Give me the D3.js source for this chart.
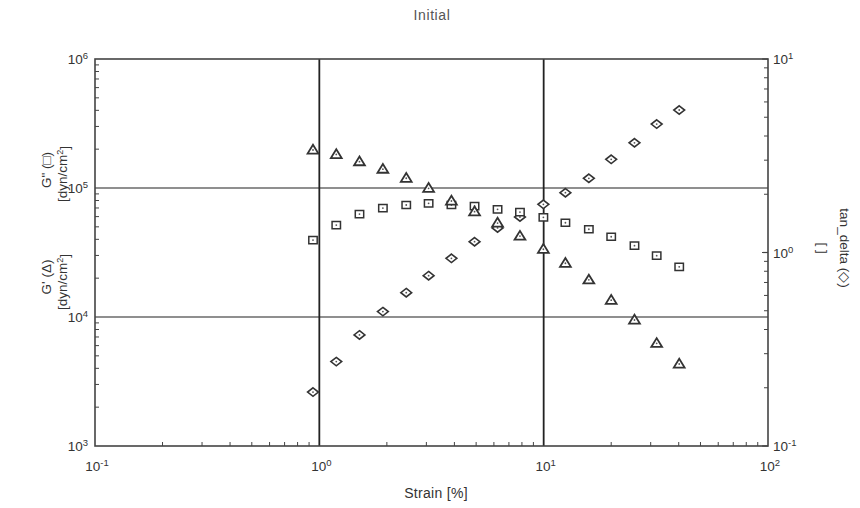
<!DOCTYPE html>
<html>
<head>
<meta charset="utf-8">
<script src="https://cdn.jsdelivr.net/npm/d3@7"></script>
<style>
  body { margin: 0; background: #fff; }
  svg { display: block; }
  text { font-family: "Liberation Sans", Arial, Helvetica, sans-serif; fill: #333; }
</style>
</head>
<body>
<svg id="chart" width="860" height="508"></svg>
<script>
// Strain sweep data (strain in %, moduli in dyn/cm², tan delta dimensionless)
const strain = [0.937, 1.19, 1.51, 1.92, 2.44, 3.07, 3.88, 4.92, 6.23, 7.84, 9.97, 12.5, 15.9, 20.0, 25.4, 31.9, 40.2];
const gPrime = [197000, 182000, 160000, 140000, 119000, 99500, 79300, 65500, 53500, 42400, 33500, 26100, 19400, 13500, 9480, 6250, 4320];
const gDoublePrime = [39500, 51600, 62800, 69900, 73800, 76100, 73800, 72400, 68300, 65100, 59300, 53800, 47900, 41900, 35700, 29900, 24500];
const tanDelta = [0.190, 0.273, 0.375, 0.495, 0.620, 0.759, 0.933, 1.137, 1.339, 1.526, 1.774, 2.037, 2.418, 3.031, 3.69, 4.61, 5.45];

// Decade exponents used for tick labels
const xTickExps = [-1, 0, 1, 2];
const leftTickExps = [3, 4, 5, 6];
const rightTickExps = [-1, 0, 1];
const xGrid = [1, 10];
const yGrid = [1e4, 1e5];

const svg = d3.select("#chart");
const m = { left: 95, right: 768, top: 59, bottom: 446 };

const x = d3.scaleLog().domain([0.1, 100]).range([m.left, m.right]);
const yL = d3.scaleLog().domain([1e3, 1e6]).range([m.bottom, m.top]);
const yR = d3.scaleLog().domain([0.1, 10]).range([m.bottom, m.top]);

// minor tick positions (2..9 of every decade) for a log domain
function logTicks(lo, hi) {
  const out = [];
  for (let e = Math.round(Math.log10(lo)); e < Math.round(Math.log10(hi)); e++) {
    for (let k = 2; k <= 9; k++) out.push(k * Math.pow(10, e));
  }
  return out;
}

// title
svg.append("text").attr("x", 432).attr("y", 20).attr("text-anchor", "middle")
  .style("font-size", "14px").style("letter-spacing", "0.6px").style("fill", "#555").text("Initial");

// grid lines
svg.selectAll(".hgrid").data(yGrid).join("line")
  .attr("x1", m.left).attr("x2", m.right)
  .attr("y1", d => yL(d)).attr("y2", d => yL(d))
  .attr("stroke", "#6a6a6a").attr("stroke-width", 1.6);
svg.selectAll(".vgrid").data(xGrid).join("line")
  .attr("y1", m.top).attr("y2", m.bottom)
  .attr("x1", d => x(d)).attr("x2", d => x(d))
  .attr("stroke", "#222").attr("stroke-width", 1.8);

// frame
svg.append("rect").attr("x", m.left).attr("y", m.top)
  .attr("width", m.right - m.left).attr("height", m.bottom - m.top)
  .attr("fill", "none").attr("stroke", "#444").attr("stroke-width", 1.6);

// inward minor ticks
const tk = 4;
svg.selectAll(".xt").data(logTicks(0.1, 100)).join("line")
  .attr("x1", d => x(d)).attr("x2", d => x(d))
  .attr("y1", m.bottom).attr("y2", m.bottom - tk)
  .attr("stroke", "#444").attr("stroke-width", 1);
svg.selectAll(".ylt").data(logTicks(1e3, 1e6)).join("line")
  .attr("x1", m.left).attr("x2", m.left + tk)
  .attr("y1", d => yL(d)).attr("y2", d => yL(d))
  .attr("stroke", "#444").attr("stroke-width", 1);
svg.selectAll(".yrt").data(logTicks(0.1, 10)).join("line")
  .attr("x1", m.right).attr("x2", m.right - tk)
  .attr("y1", d => yR(d)).attr("y2", d => yR(d))
  .attr("stroke", "#444").attr("stroke-width", 1);
svg.selectAll(".yrM").data(rightTickExps).join("line")
  .attr("x1", m.right).attr("x2", m.right - 6)
  .attr("y1", d => yR(Math.pow(10, d))).attr("y2", d => yR(Math.pow(10, d)))
  .attr("stroke", "#444").attr("stroke-width", 1.2);

// power-of-ten labels
function powLabel(sel, e) {
  sel.append("tspan").text("10");
  sel.append("tspan").attr("dy", "-0.5em").style("font-size", "9.5px").text(String(e));
}
xTickExps.forEach(e => {
  const t = svg.append("text").attr("x", x(Math.pow(10, e)) + 2).attr("y", 471)
    .attr("text-anchor", "middle").style("font-size", "13.5px");
  powLabel(t, e);
});
leftTickExps.forEach(e => {
  const t = svg.append("text").attr("x", m.left - 7).attr("y", yL(Math.pow(10, e)) + 5)
    .attr("text-anchor", "end").style("font-size", "13.5px");
  powLabel(t, e);
});
rightTickExps.forEach(e => {
  const t = svg.append("text").attr("x", m.right + 5).attr("y", yR(Math.pow(10, e)) + 5)
    .attr("text-anchor", "start").style("font-size", "13.5px");
  powLabel(t, e);
});

// axis titles
svg.append("text").attr("x", 436).attr("y", 498).attr("text-anchor", "middle")
  .style("font-size", "14px").style("letter-spacing", "0.3px").text("Strain [%]");

function vText(xp, yp, rot, parts) {
  const t = svg.append("text").attr("transform", `translate(${xp},${yp}) rotate(${rot})`)
    .attr("text-anchor", "middle").style("font-size", "13.5px");
  parts.forEach(p => {
    const s = t.append("tspan").text(p.t);
    if (p.sup) s.attr("dy", "-0.5em").style("font-size", "9px");
    if (p.back) s.attr("dy", "0.5em");
  });
}
vText(51, 170, -90, [{ t: 'G" (□)' }]);
vText(67, 174, -90, [{ t: "[dyn/cm" }, { t: "2", sup: true }, { t: "]", back: true }]);
vText(51, 277, -90, [{ t: "G' (Δ)" }]);
vText(67, 282, -90, [{ t: "[dyn/cm" }, { t: "2", sup: true }, { t: "]", back: true }]);
vText(840, 248, 90, [{ t: "tan_delta (◇)" }]);
vText(818, 248, 90, [{ t: "[ ]" }]);

// markers
const triPath = "M0,-5.2L5.4,3.6L-5.4,3.6Z";
const sqPath = "M-4.2,-3.6H4.2V3.6H-4.2Z";
const diaPath = "M0,-4.2L5.4,0L0,4.2L-5.4,0Z";

function series(vals, ys, path, cls, sw) {
  const g = svg.append("g").attr("class", cls);
  const pts = g.selectAll("g").data(strain.map((s, i) => [s, vals[i]])).join("g")
    .attr("transform", d => `translate(${x(d[0])},${ys(d[1])})`);
  pts.append("path").attr("d", path).attr("fill", "#fff")
    .attr("stroke", "#333").attr("stroke-width", sw).attr("stroke-linejoin", "miter");
  pts.append("circle").attr("r", 0.9).attr("fill", "#555");
}
series(tanDelta, yR, diaPath, "tan-delta", 1.6);
series(gDoublePrime, yL, sqPath, "g-loss", 1.5);
series(gPrime, yL, triPath, "g-storage", 1.8);
</script>
</body>
</html>
